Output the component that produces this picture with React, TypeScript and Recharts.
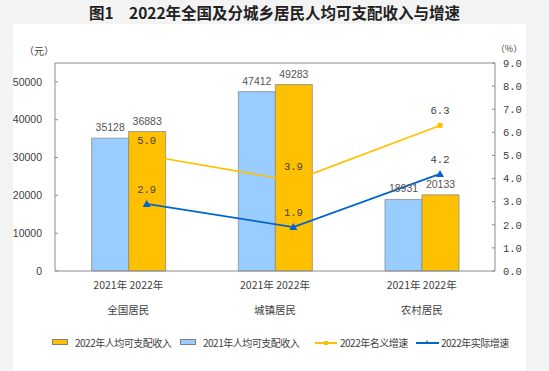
import {
  Bar,
  ComposedChart,
  Label,
  LabelList,
  Line,
  ReferenceLine,
  XAxis,
  YAxis,
} from "recharts"

const categories = ["全国居民", "城镇居民", "农村居民"]
const yearTicks = ["2021年 2022年", "2021年 2022年", "2021年 2022年"]
const income2021 = [35128, 47412, 18931]
const income2022 = [36883, 49283, 20133]
const nominalGrowth = [5.0, 3.9, 6.3]
const realGrowth = [2.9, 1.9, 4.2]
const leftTicks = [0, 10000, 20000, 30000, 40000, 50000]
const rightTicks = [0, 1, 2, 3, 4, 5, 6, 7, 8, 9]

const data = categories.map((name, i) => ({
  name,
  idx: i,
  y2021: income2021[i],
  y2022: income2022[i],
  nominal: nominalGrowth[i],
  real: realGrowth[i],
}))

const AXIS = "#8c8c8c"
const TXT = "#404040"
const ORANGE = "#FFC000"
const LIGHTBLUE = "#99CCFF"
const BLUE = "#0066CC"
const CJK = "'Noto Sans CJK SC', 'Noto Sans', sans-serif"

function CatTick(props: any) {
  const { x, y, payload } = props
  return (
    <g>
      <text x={x} y={y + 18} textAnchor="middle" fontSize={10.5} fill={TXT} fontFamily={CJK}>
        {yearTicks[payload.index]}
      </text>
      <text x={x} y={y + 43} textAnchor="middle" fontSize={10.5} fill={TXT} fontFamily={CJK}>
        {payload.value}
      </text>
    </g>
  )
}

function SquareDot(p: any) {
  if (p.cx == null) return <g key={p.key} />
  return <rect key={p.key} x={p.cx - 2.5} y={p.cy - 2.5} width={5} height={5} fill={ORANGE} />
}

function TriDot(p: any) {
  if (p.cx == null) return <g key={p.key} />
  const { cx, cy } = p
  return (
    <polygon
      key={p.key}
      points={`${cx},${cy - 4} ${cx - 4},${cy + 3} ${cx + 4},${cy + 3}`}
      fill={BLUE}
    />
  )
}

function LegendRow() {
  const text = {
    position: "absolute" as const,
    top: 335,
    fontSize: 10,
    letterSpacing: "-0.5px",
    color: TXT,
    fontFamily: CJK,
    lineHeight: "16px",
    whiteSpace: "nowrap" as const,
  }
  return (
    <>
      <div style={{ position: "absolute", left: 52, top: 339, width: 14, height: 4, background: ORANGE, border: "0.8px solid #808080" }} />
      <span style={{ ...text, left: 75 }}>2022年人均可支配收入</span>
      <div style={{ position: "absolute", left: 180, top: 339, width: 14, height: 4, background: LIGHTBLUE, border: "0.8px solid #808080" }} />
      <span style={{ ...text, left: 203 }}>2021年人均可支配收入</span>
      <div style={{ position: "absolute", left: 315, top: 342, width: 22, height: 1.5, background: ORANGE }} />
      <div style={{ position: "absolute", left: 324, top: 340.5, width: 4, height: 4, background: ORANGE }} />
      <span style={{ ...text, left: 340 }}>2022年名义增速</span>
      <div style={{ position: "absolute", left: 416, top: 342, width: 23, height: 1.5, background: BLUE }} />
      <div style={{ position: "absolute", left: 425, top: 339.5, width: 0, height: 0, borderLeft: "2.5px solid transparent", borderRight: "2.5px solid transparent", borderBottom: `4px solid ${BLUE}` }} />
      <span style={{ ...text, left: 441 }}>2022年实际增速</span>
    </>
  )
}

export default function App() {
  return (
    <div style={{ position: "relative", width: 549, height: 371, background: "#f3f3f3", overflow: "hidden" }}>
      <style>{"body{margin:0}"}</style>
      <div style={{ position: "absolute", left: 13, top: 24, width: 513, height: 360, background: "#fff" }} />
      <div
        style={{
          position: "absolute",
          left: 0,
          width: 549,
          top: 2,
          textAlign: "center",
          fontFamily: CJK,
          fontWeight: 700,
          fontSize: 15.5,
          color: "#222",
          lineHeight: "20px",
        }}
      >
        图1　2022年全国及分城乡居民人均可支配收入与增速
      </div>
      <div style={{ position: "absolute", left: 0, top: 0 }}>
        <ComposedChart
          width={549}
          height={371}
          data={data}
          margin={{ top: 63, right: 14, bottom: 70, left: 5 }}
          barCategoryGap="25%"
          barGap={0}
        >
          <XAxis
            dataKey="name"
            xAxisId="cat"
            height={30}
            stroke={AXIS}
            tickLine={false}
            tickSize={0}
            tickMargin={0}
            tick={<CatTick />}
            interval={0}
          />
          {/* lines sit over the 2022 bar: its centre is 5/8 of the way through each band */}
          <XAxis xAxisId="pt" dataKey="idx" type="number" domain={[-0.625, 2.375]} hide />
          <YAxis
            yAxisId="left"
            width={50}
            domain={[0, 55000]}
            ticks={leftTicks}
            stroke={AXIS}
            tickSize={-3}
            tickMargin={16}
            tick={{ fill: TXT, fontSize: 10.5, fontFamily: "'Liberation Sans', sans-serif" }}
          >
            <Label value="（元）" position="top" offset={8} dx={9} fontSize={10} fill={TXT} fontFamily={CJK} />
          </YAxis>
          <YAxis
            yAxisId="right"
            orientation="right"
            width={40}
            domain={[0, 9]}
            ticks={rightTicks}
            stroke={AXIS}
            tickSize={-3}
            tickMargin={11}
            tickFormatter={(v: number) => v.toFixed(1)}
            tick={{ fill: TXT, fontSize: 10.5, fontFamily: "'Liberation Mono', monospace", textAnchor: "start" }}
          >
            <Label value="（%）" position="top" offset={11} dx={-6} fontSize={9} fill={TXT} fontFamily={CJK} />
          </YAxis>
          <ReferenceLine xAxisId="cat" yAxisId="left" y={55000} stroke={AXIS} />
          <Bar xAxisId="cat" yAxisId="left" dataKey="y2021" fill={LIGHTBLUE} stroke="#8a8a8a" strokeWidth={0.8} isAnimationActive={false}>
            <LabelList dataKey="y2021" position="top" offset={7} fill="#555" fontSize={10.5} fontFamily="'Liberation Sans', sans-serif" />
          </Bar>
          <Bar xAxisId="cat" yAxisId="left" dataKey="y2022" fill={ORANGE} stroke="#8a8a8a" strokeWidth={0.8} isAnimationActive={false}>
            <LabelList dataKey="y2022" position="top" offset={7} fill="#555" fontSize={10.5} fontFamily="'Liberation Sans', sans-serif" />
          </Bar>
          <Line
            xAxisId="pt"
            yAxisId="right"
            dataKey="nominal"
            stroke={ORANGE}
            strokeWidth={1.6}
            dot={SquareDot}
            activeDot={false}
            isAnimationActive={false}
          >
            <LabelList
              dataKey="nominal"
              position="top"
              offset={11}
              formatter={(v: any) => Number(v).toFixed(1)}
              fill={TXT}
              fontSize={10.5}
              fontFamily="'Liberation Mono', monospace"
            />
          </Line>
          <Line
            xAxisId="pt"
            yAxisId="right"
            dataKey="real"
            stroke={BLUE}
            strokeWidth={1.8}
            dot={TriDot}
            activeDot={false}
            isAnimationActive={false}
          >
            <LabelList
              dataKey="real"
              position="top"
              offset={11}
              formatter={(v: any) => Number(v).toFixed(1)}
              fill={TXT}
              fontSize={10.5}
              fontFamily="'Liberation Mono', monospace"
            />
          </Line>
        </ComposedChart>
      </div>
      <LegendRow />
    </div>
  )
}
